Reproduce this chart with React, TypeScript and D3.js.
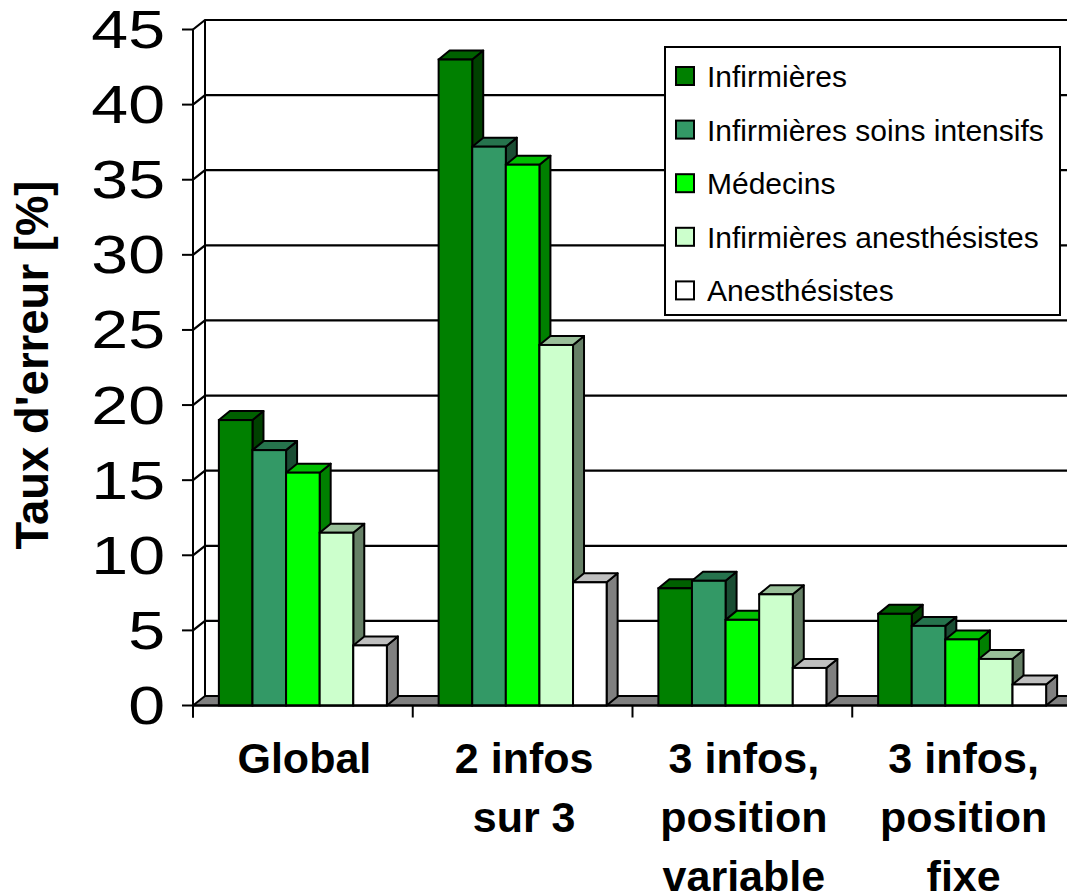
import React from "react";
import * as d3 from "d3";

const categories = ["Global", "2 infos sur 3", "3 infos, position variable", "3 infos, position fixe"];
const categoryLines = [["Global"], ["2 infos", "sur 3"], ["3 infos,", "position", "variable"], ["3 infos,", "position", "fixe"]];
const seriesNames = ["Infirmières", "Infirmières soins intensifs", "Médecins", "Infirmières anesthésistes", "Anesthésistes"];
const seriesColors = ["#008000", "#339966", "#00FF00", "#CCFFCC", "#FFFFFF"];
const infirmieres = [19, 43, 7.8, 6.1];
const infirmieresSI = [17, 37.2, 8.3, 5.3];
const medecins = [15.5, 36, 5.7, 4.4];
const infirmieresAnest = [11.5, 24, 7.4, 3.1];
const anesthesistes = [4, 8.2, 2.5, 1.4];
const seriesValues = [infirmieres, infirmieresSI, medecins, infirmieresAnest, anesthesistes];
const yTicks = [0, 5, 10, 15, 20, 25, 30, 35, 40, 45];
const yTitle = "Taux d'erreur [%]";

const W = 1067, H = 892;
const FONT = "'Liberation Sans', Arial, sans-serif";

function shade(c: string, k: number) {
  const r = d3.rgb(c);
  return d3.rgb(r.r * k, r.g * k, r.b * k).formatHex();
}

export default function App() {
  const x0 = 193, x1 = 1072;
  const y = d3.scaleLinear().domain([0, 45]).range([705.5, 29.5]);
  const xb = d3.scaleBand().domain(categories).range([x0, x1]).paddingInner(0).paddingOuter(0);
  const xs = d3.scaleBand().domain(seriesNames).range([0, xb.bandwidth()]).paddingInner(0).paddingOuter(0.77);
  const wdx = 12, wdy = -9.5; // wall depth
  const bdx = 11, bdy = -9; // bar depth
  const y0 = y(0);
  const sw = 2;

  const bars: JSX.Element[] = [];
  categories.forEach((cat, ci) => {
    seriesNames.forEach((s, si) => {
      const v = seriesValues[si][ci];
      const bx = (xb(cat) as number) + (xs(s) as number);
      const bw = xs.bandwidth();
      const yt = y(v);
      const col = seriesColors[si];
      const top = `M${bx},${yt} L${bx + bdx},${yt + bdy} L${bx + bw + bdx},${yt + bdy} L${bx + bw},${yt} Z`;
      const side = `M${bx + bw},${yt} L${bx + bw + bdx},${yt + bdy} L${bx + bw + bdx},${y0 + bdy} L${bx + bw},${y0} Z`;
      bars.push(
        <g key={`${ci}-${si}`}>
          <path d={side} fill={shade(col, 0.5)} stroke="#000" strokeWidth={sw} strokeLinejoin="round" />
          <path d={top} fill={shade(col, 0.75)} stroke="#000" strokeWidth={sw} strokeLinejoin="round" />
          <rect x={bx} y={yt} width={bw} height={y0 - yt} fill={col} stroke="#000" strokeWidth={sw} />
        </g>
      );
    });
  });

  const backRight = x1 + wdx;
  const floor = `M${x0},${y0} L${x0 + wdx},${y0 + wdy} L${backRight},${y0 + wdy} L${x1},${y0} Z`;

  const lx = 665, ly = 47, lw = 395, lh = 268;

  return (
    <svg width={W} height={H} style={{ position: "absolute", left: 0, top: 0, background: "#fff" }} fontFamily={FONT}>
      <rect x={0} y={0} width={W} height={H} fill="#fff" />
      <path d={`M${x0},${y(45)} L${x0 + wdx},${y(45) + wdy} L${x0 + wdx},${y0 + wdy} L${x0},${y0} Z`} fill="#fff" stroke="none" />
      {yTicks.filter(t => t > 0).map(t => (
        <path key={t} d={`M${x0},${y(t)} L${x0 + wdx},${y(t) + wdy} L${backRight},${y(t) + wdy}`} fill="none" stroke="#000" strokeWidth={2.2} />
      ))}
      <line x1={x0 + wdx} y1={y(45) + wdy} x2={x0 + wdx} y2={y0 + wdy} stroke="#000" strokeWidth={sw} />
      <path d={floor} fill="#808080" stroke="#000" strokeWidth={sw} strokeLinejoin="round" />
      {bars}
      <line x1={x0} y1={y(45)} x2={x0} y2={y0 + 12} stroke="#000" strokeWidth={sw} />
      <line x1={x0} y1={y0} x2={x1} y2={y0} stroke="#000" strokeWidth={sw} />
      {yTicks.map(t => (
        <g key={t}>
          <line x1={x0 - 11} y1={y(t)} x2={x0} y2={y(t)} stroke="#000" strokeWidth={sw} />
          <text transform={`translate(165,${y(t) + 18.5}) scale(1.25,1)`} textAnchor="end" fontSize={53} fill="#000">{t}</text>
        </g>
      ))}
      {categories.map((c) => (
        <line key={c} x1={xb(c) as number} y1={y0} x2={xb(c) as number} y2={y0 + 12} stroke="#000" strokeWidth={sw} />
      ))}
      <line x1={x1} y1={y0} x2={x1} y2={y0 + 12} stroke="#000" strokeWidth={sw} />
      {categories.map((c, i) => (
        <text key={c} textAnchor="middle" fontSize={43} fontWeight="bold" fill="#000">
          {categoryLines[i].map((ln, j) => (
            <tspan key={j} x={(xb(c) as number) + xb.bandwidth() / 2 + 1.5} y={773 + j * 59}>{ln}</tspan>
          ))}
        </text>
      ))}
      <text transform={`translate(48,365) rotate(-90)`} textAnchor="middle" fontSize={45.5} fontWeight="bold" fill="#000">{yTitle}</text>
      <rect x={lx} y={ly} width={lw} height={lh} fill="#fff" stroke="#000" strokeWidth={sw} />
      {seriesNames.map((s, i) => {
        const cy = 76 + i * 53.6;
        return (
          <g key={s}>
            <rect x={676} y={cy - 9} width={18} height={18} fill={seriesColors[i]} stroke="#000" strokeWidth={sw} />
            <text x={707} y={cy + 11} fontSize={30} fill="#000">{s}</text>
          </g>
        );
      })}
    </svg>
  );
}
